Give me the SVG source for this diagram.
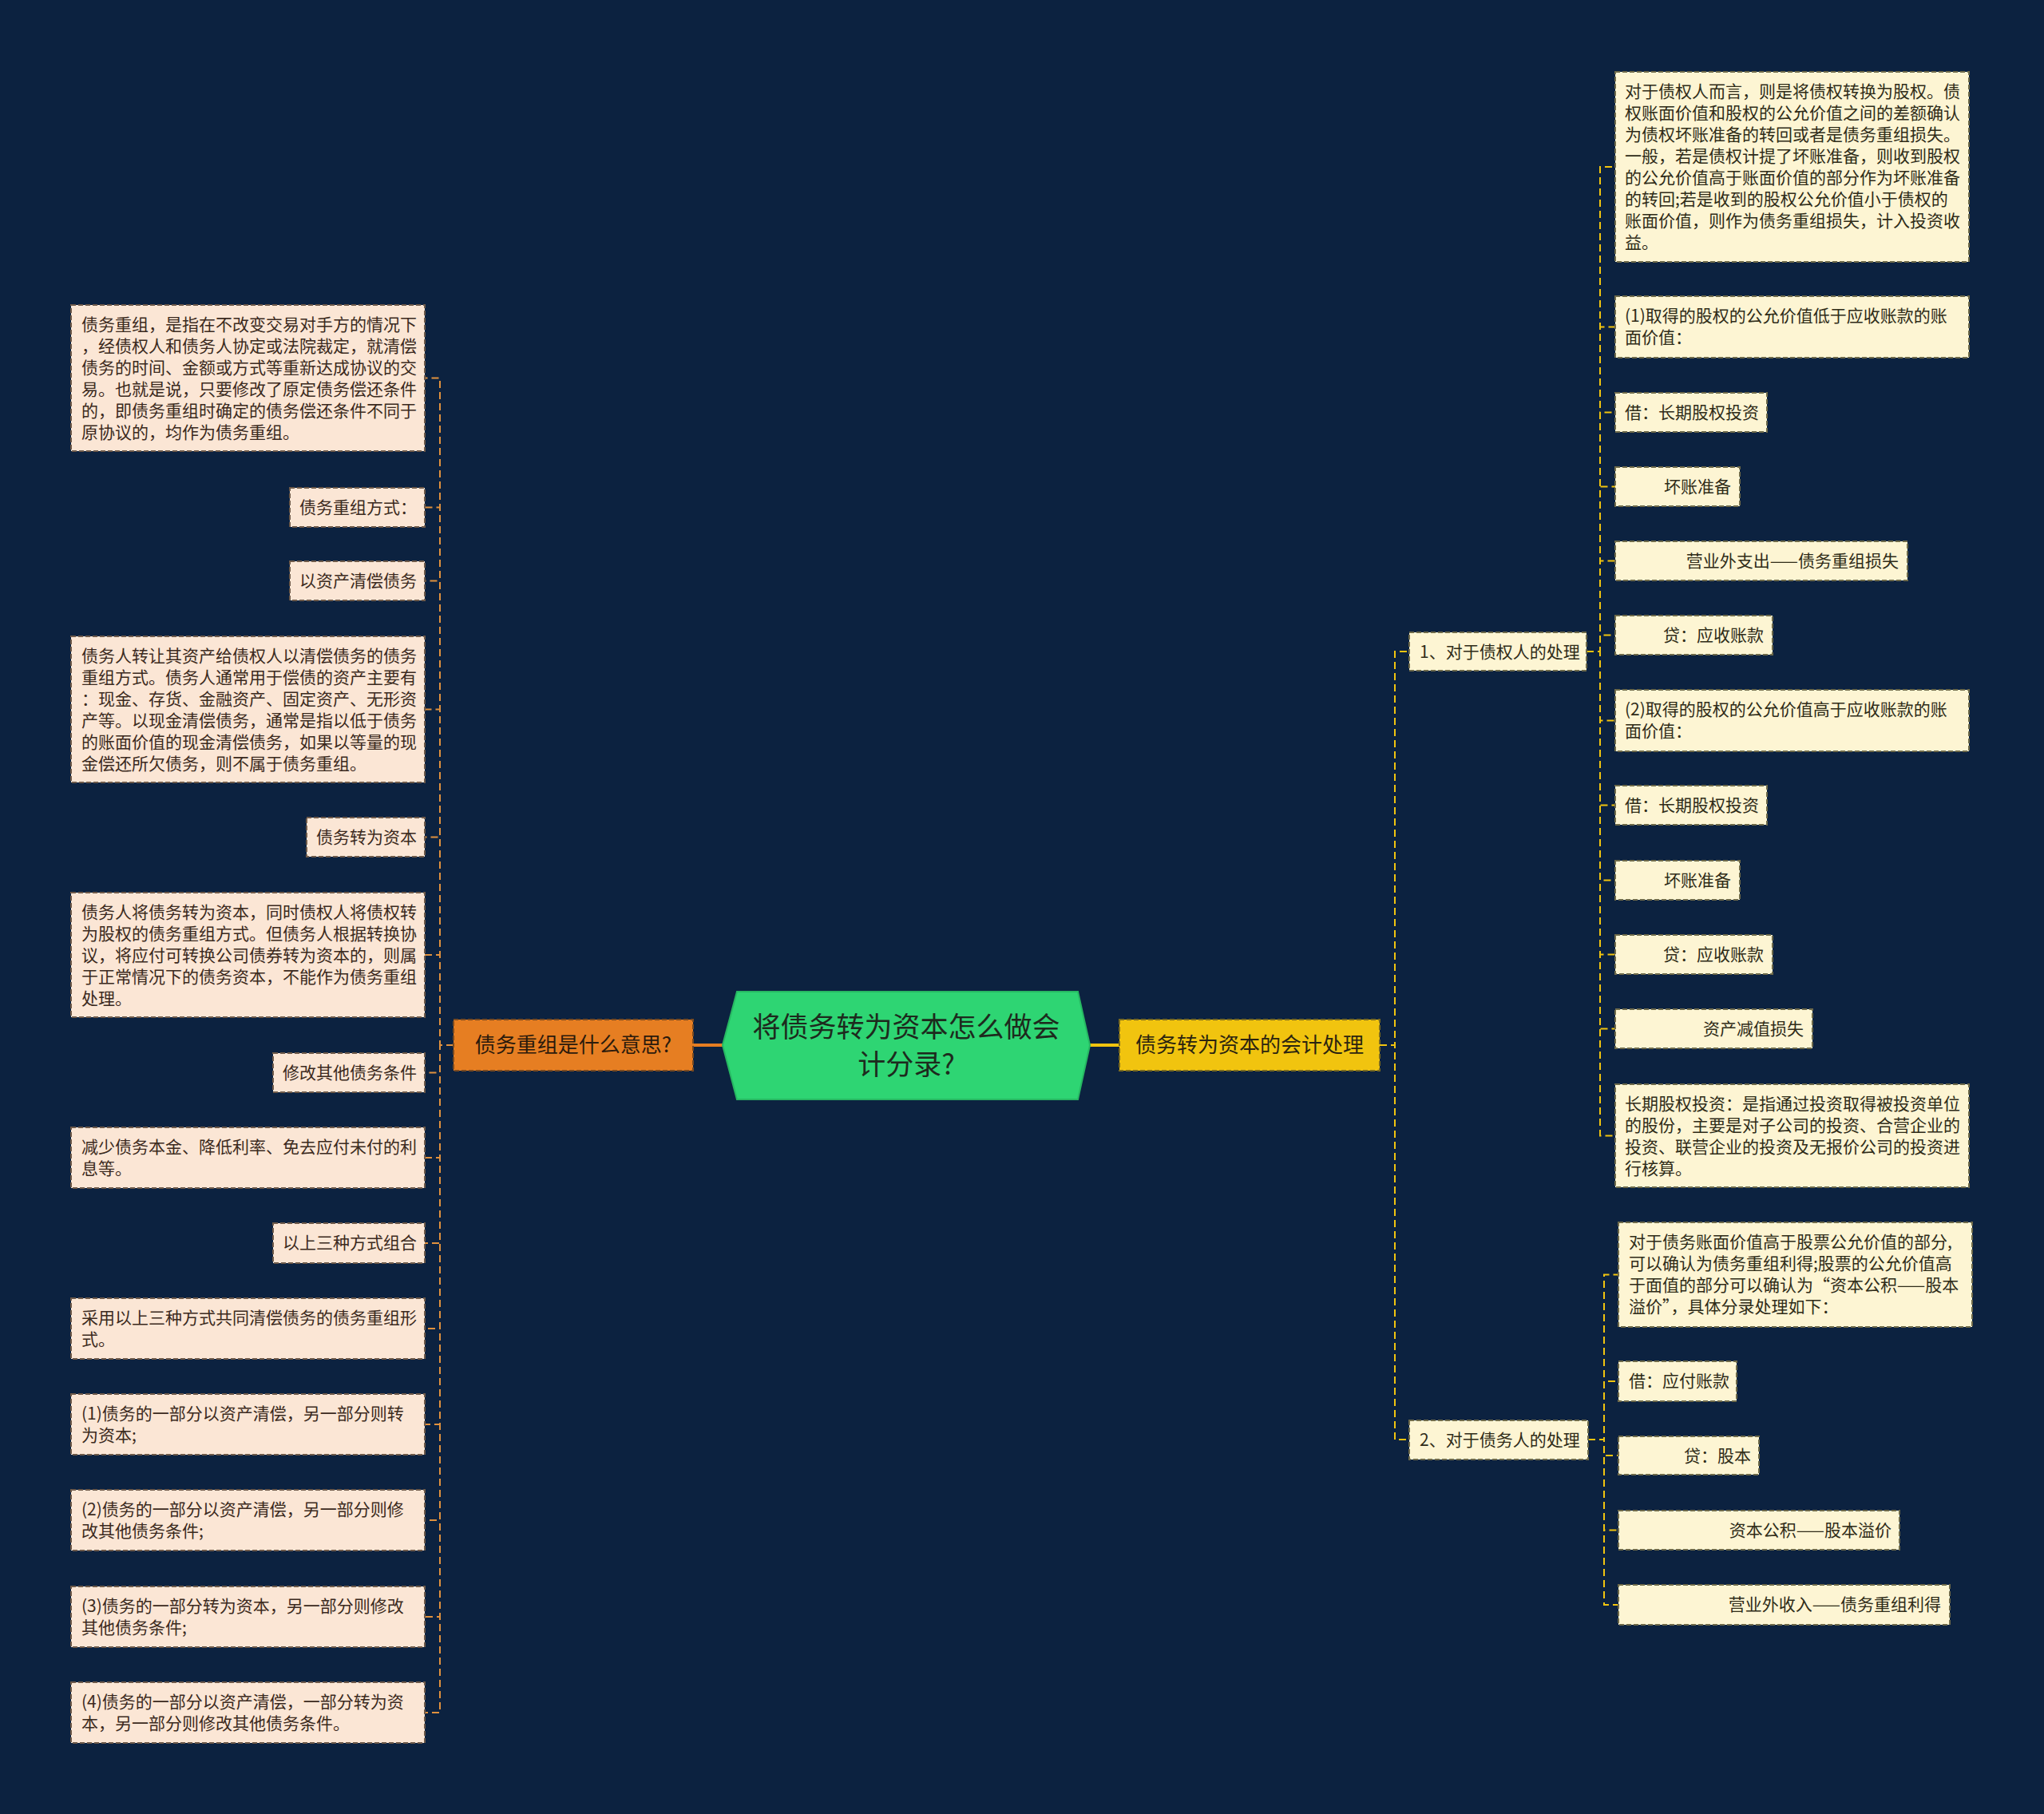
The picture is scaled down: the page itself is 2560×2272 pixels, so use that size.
<svg xmlns="http://www.w3.org/2000/svg" width="2560" height="2272" viewBox="0 0 2560 2272">
<style>
text{font-family:"Noto Sans CJK SC","Noto Sans",sans-serif;}
.ln rect{fill:#fbe6d5;stroke:#6e5a4a;stroke-width:2;stroke-dasharray:6 3;}
.ln text{font-size:21px;fill:#3b2a20;}
.rn rect{fill:#fdf5d3;stroke:#6e6a4a;stroke-width:2;stroke-dasharray:6 3;}
.rn text{font-size:21px;fill:#2f2c18;}
.lc{fill:none;stroke:#e0913e;stroke-width:2;stroke-dasharray:9 5;}
.rc{fill:none;stroke:#f1c40f;stroke-width:2;stroke-dasharray:9 5;}
.end{text-anchor:end;}
</style>
<rect x="0" y="0" width="2560" height="2272" fill="#0c2240"/>
<g id="connectors">
<path d="M868,1309 H905" fill="none" stroke="#e67e22" stroke-width="4"/>
<path d="M1365,1309 H1402" fill="none" stroke="#f1c40f" stroke-width="4"/>
<path class="lc" d="M568,1309 H551 V473.5 H532"/>
<path class="lc" d="M568,1309 H551 V635.5 H532"/>
<path class="lc" d="M568,1309 H551 V727.5 H532"/>
<path class="lc" d="M568,1309 H551 V888.5 H532"/>
<path class="lc" d="M568,1309 H551 V1048.5 H532"/>
<path class="lc" d="M568,1309 H551 V1196 H532"/>
<path class="lc" d="M568,1309 H551 V1343.5 H532"/>
<path class="lc" d="M568,1309 H551 V1450 H532"/>
<path class="lc" d="M568,1309 H551 V1557 H532"/>
<path class="lc" d="M568,1309 H551 V1664 H532"/>
<path class="lc" d="M568,1309 H551 V1784 H532"/>
<path class="lc" d="M568,1309 H551 V1904 H532"/>
<path class="lc" d="M568,1309 H551 V2025 H532"/>
<path class="lc" d="M568,1309 H551 V2145 H532"/>
<path class="rc" d="M1728,1309 H1747 V816 H1765"/>
<path class="rc" d="M1728,1309 H1747 V1803 H1765"/>
<path class="rc" d="M1987,816 H2004 V209 H2023"/>
<path class="rc" d="M1987,816 H2004 V409.5 H2023"/>
<path class="rc" d="M1987,816 H2004 V516.5 H2023"/>
<path class="rc" d="M1987,816 H2004 V609.5 H2023"/>
<path class="rc" d="M1987,816 H2004 V702.5 H2023"/>
<path class="rc" d="M1987,816 H2004 V795.5 H2023"/>
<path class="rc" d="M1987,816 H2004 V902.5 H2023"/>
<path class="rc" d="M1987,816 H2004 V1008.5 H2023"/>
<path class="rc" d="M1987,816 H2004 V1102.5 H2023"/>
<path class="rc" d="M1987,816 H2004 V1195.5 H2023"/>
<path class="rc" d="M1987,816 H2004 V1288.5 H2023"/>
<path class="rc" d="M1987,816 H2004 V1422.5 H2023"/>
<path class="rc" d="M1989,1803 H2009 V1596.5 H2027"/>
<path class="rc" d="M1989,1803 H2009 V1730 H2027"/>
<path class="rc" d="M1989,1803 H2009 V1823 H2027"/>
<path class="rc" d="M1989,1803 H2009 V1916.5 H2027"/>
<path class="rc" d="M1989,1803 H2009 V2010 H2027"/>
</g>
<g id="center">
<polygon points="905,1309 923,1242 1350,1242 1365,1309 1350,1377 923,1377" fill="#2ed573" stroke="#27b862" stroke-width="2"/>
<text x="1135" y="1299" text-anchor="middle" font-size="35" fill="#1d2a1d">将债务转为资本怎么做会</text>
<text x="1135" y="1346" text-anchor="middle" font-size="35" fill="#1d2a1d">计分录?</text>
</g>
<g id="n-left-main">
<rect x="568" y="1277" width="300" height="64" fill="#e67e22" stroke="#7a4a20" stroke-width="2" stroke-dasharray="6 3"/>
<text x="718" y="1318" text-anchor="middle" font-size="26" fill="#2b1a0c">债务重组是什么意思?</text>
</g>
<g id="n-right-main">
<rect x="1402" y="1277" width="326" height="64" fill="#f1c40f" stroke="#7a6a20" stroke-width="2" stroke-dasharray="6 3"/>
<text x="1565" y="1318" text-anchor="middle" font-size="26" fill="#2b2410">债务转为资本的会计处理</text>
</g>
<g id="l1" class="ln"><rect x="89" y="382" width="443" height="183"/>
<text x="102" y="414">债务重组，是指在不改变交易对手方的情况下</text>
<text x="102" y="441">，经债权人和债务人协定或法院裁定，就清偿</text>
<text x="102" y="468">债务的时间、金额或方式等重新达成协议的交</text>
<text x="102" y="495">易。也就是说，只要修改了原定债务偿还条件</text>
<text x="102" y="522">的，即债务重组时确定的债务偿还条件不同于</text>
<text x="102" y="549">原协议的，均作为债务重组。</text></g>
<g id="l2" class="ln"><rect x="363" y="611" width="169" height="49"/><text x="375" y="643">债务重组方式：</text></g>
<g id="l3" class="ln"><rect x="363" y="703" width="169" height="49"/><text x="375" y="735">以资产清偿债务</text></g>
<g id="l4" class="ln"><rect x="89" y="797" width="443" height="183"/>
<text x="102" y="829">债务人转让其资产给债权人以清偿债务的债务</text>
<text x="102" y="856">重组方式。债务人通常用于偿债的资产主要有</text>
<text x="102" y="883">：现金、存货、金融资产、固定资产、无形资</text>
<text x="102" y="910">产等。以现金清偿债务，通常是指以低于债务</text>
<text x="102" y="937">的账面价值的现金清偿债务，如果以等量的现</text>
<text x="102" y="964">金偿还所欠债务，则不属于债务重组。</text></g>
<g id="l5" class="ln"><rect x="384" y="1024" width="148" height="49"/><text x="396" y="1056">债务转为资本</text></g>
<g id="l6" class="ln"><rect x="89" y="1118" width="443" height="156"/>
<text x="102" y="1150">债务人将债务转为资本，同时债权人将债权转</text>
<text x="102" y="1177">为股权的债务重组方式。但债务人根据转换协</text>
<text x="102" y="1204">议，将应付可转换公司债券转为资本的，则属</text>
<text x="102" y="1231">于正常情况下的债务资本，不能作为债务重组</text>
<text x="102" y="1258">处理。</text></g>
<g id="l7" class="ln"><rect x="342" y="1319" width="190" height="49"/><text x="354" y="1351">修改其他债务条件</text></g>
<g id="l8" class="ln"><rect x="89" y="1412" width="443" height="76"/>
<text x="102" y="1444">减少债务本金、降低利率、免去应付未付的利</text>
<text x="102" y="1471">息等。</text></g>
<g id="l9" class="ln"><rect x="342" y="1532" width="190" height="50"/><text x="354" y="1564">以上三种方式组合</text></g>
<g id="l10" class="ln"><rect x="89" y="1626" width="443" height="76"/>
<text x="102" y="1658">采用以上三种方式共同清偿债务的债务重组形</text>
<text x="102" y="1685">式。</text></g>
<g id="l11" class="ln"><rect x="89" y="1746" width="443" height="76"/>
<text x="102" y="1778">(1)债务的一部分以资产清偿，另一部分则转</text>
<text x="102" y="1805">为资本;</text></g>
<g id="l12" class="ln"><rect x="89" y="1866" width="443" height="76"/>
<text x="102" y="1898">(2)债务的一部分以资产清偿，另一部分则修</text>
<text x="102" y="1925">改其他债务条件;</text></g>
<g id="l13" class="ln"><rect x="89" y="1987" width="443" height="76"/>
<text x="102" y="2019">(3)债务的一部分转为资本，另一部分则修改</text>
<text x="102" y="2046">其他债务条件;</text></g>
<g id="l14" class="ln"><rect x="89" y="2107" width="443" height="76"/>
<text x="102" y="2139">(4)债务的一部分以资产清偿，一部分转为资</text>
<text x="102" y="2166">本，另一部分则修改其他债务条件。</text></g>
<g id="r1" class="rn"><rect x="1765" y="792" width="222" height="48"/><text x="1778" y="824">1、对于债权人的处理</text></g>
<g id="r2" class="rn"><rect x="1765" y="1779" width="224" height="49"/><text x="1778" y="1811">2、对于债务人的处理</text></g>
<g id="ra" class="rn"><rect x="2023" y="90" width="443" height="238"/>
<text x="2035" y="122">对于债权人而言，则是将债权转换为股权。债</text>
<text x="2035" y="149">权账面价值和股权的公允价值之间的差额确认</text>
<text x="2035" y="176">为债权坏账准备的转回或者是债务重组损失。</text>
<text x="2035" y="203">一般，若是债权计提了坏账准备，则收到股权</text>
<text x="2035" y="230">的公允价值高于账面价值的部分作为坏账准备</text>
<text x="2035" y="257">的转回;若是收到的股权公允价值小于债权的</text>
<text x="2035" y="284">账面价值，则作为债务重组损失，计入投资收</text>
<text x="2035" y="311">益。</text></g>
<g id="rb" class="rn"><rect x="2023" y="371" width="443" height="77"/>
<text x="2035" y="403">(1)取得的股权的公允价值低于应收账款的账</text>
<text x="2035" y="430">面价值：</text></g>
<g id="rc" class="rn"><rect x="2023" y="492" width="190" height="49"/><text x="2035" y="524">借：长期股权投资</text></g>
<g id="rd" class="rn"><rect x="2023" y="585" width="156" height="49"/><text class="end" x="2168" y="617">坏账准备</text></g>
<g id="re" class="rn"><rect x="2023" y="678" width="366" height="49"/><text class="end" x="2378" y="710">营业外支出——债务重组损失</text></g>
<g id="rf" class="rn"><rect x="2023" y="771" width="197" height="49"/><text class="end" x="2209" y="803">贷：应收账款</text></g>
<g id="rg" class="rn"><rect x="2023" y="864" width="443" height="77"/>
<text x="2035" y="896">(2)取得的股权的公允价值高于应收账款的账</text>
<text x="2035" y="923">面价值：</text></g>
<g id="rh" class="rn"><rect x="2023" y="984" width="190" height="49"/><text x="2035" y="1016">借：长期股权投资</text></g>
<g id="ri" class="rn"><rect x="2023" y="1078" width="156" height="49"/><text class="end" x="2168" y="1110">坏账准备</text></g>
<g id="rj" class="rn"><rect x="2023" y="1171" width="197" height="49"/><text class="end" x="2209" y="1203">贷：应收账款</text></g>
<g id="rk" class="rn"><rect x="2023" y="1264" width="247" height="49"/><text class="end" x="2259" y="1296">资产减值损失</text></g>
<g id="rl" class="rn"><rect x="2023" y="1358" width="443" height="129"/>
<text x="2035" y="1390">长期股权投资：是指通过投资取得被投资单位</text>
<text x="2035" y="1417">的股份，主要是对子公司的投资、合营企业的</text>
<text x="2035" y="1444">投资、联营企业的投资及无报价公司的投资进</text>
<text x="2035" y="1471">行核算。</text></g>
<g id="rm" class="rn"><rect x="2027" y="1531" width="443" height="131"/>
<text x="2040" y="1563">对于债务账面价值高于股票公允价值的部分,</text>
<text x="2040" y="1590">可以确认为债务重组利得;股票的公允价值高</text>
<text x="2040" y="1617">于面值的部分可以确认为“资本公积——股本</text>
<text x="2040" y="1644">溢价”，具体分录处理如下：</text></g>
<g id="rn" class="rn"><rect x="2027" y="1705" width="148" height="50"/><text x="2040" y="1737">借：应付账款</text></g>
<g id="ro" class="rn"><rect x="2027" y="1799" width="176" height="48"/><text class="end" x="2193" y="1831">贷：股本</text></g>
<g id="rp" class="rn"><rect x="2027" y="1892" width="352" height="49"/><text class="end" x="2369" y="1924">资本公积——股本溢价</text></g>
<g id="rq" class="rn"><rect x="2027" y="1985" width="415" height="50"/><text class="end" x="2431" y="2017">营业外收入——债务重组利得</text></g>
</svg>
